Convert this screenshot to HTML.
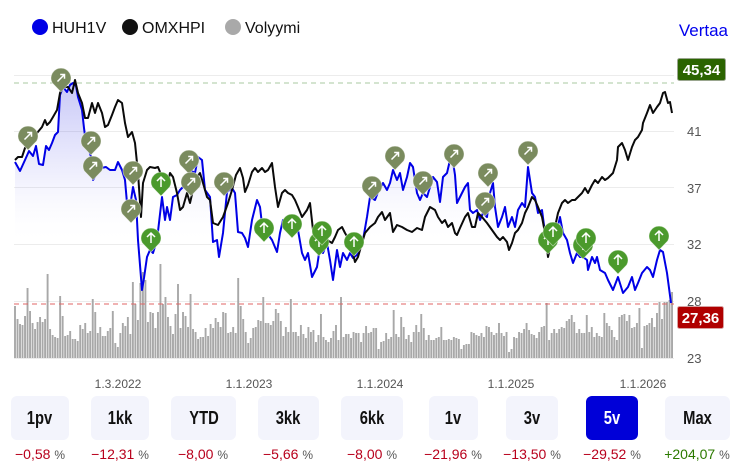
<!DOCTYPE html>
<html>
<head>
<meta charset="utf-8">
<style>
  html,body{margin:0;padding:0;background:#fff;}
  #wrap{position:relative;width:745px;height:472px;overflow:hidden;background:#fff;font-family:"Liberation Sans",Arial,sans-serif;}
  svg{position:absolute;left:0;top:0;}
  .btn{position:absolute;top:396px;height:44px;border-radius:6px;background:#f3f4fc;display:flex;align-items:center;justify-content:center;font-weight:bold;font-size:18px;color:#111;}
  .btn span{display:inline-block;transform:scaleX(0.82);}
  .btn.act{background:#0000d8;color:#fff;}
  .pct{position:absolute;top:446px;width:100px;text-align:center;font-size:14px;color:#b8001c;white-space:nowrap;}
  .pct i{font-style:normal;color:#555;font-size:12px;}
  .pct.g{color:#2c7a00;}
</style>
</head>
<body>
<div id="wrap">
<svg width="745" height="472" viewBox="0 0 745 472" xmlns="http://www.w3.org/2000/svg" font-family="Liberation Sans, Arial, sans-serif">
  <defs>
    <linearGradient id="bf" gradientUnits="userSpaceOnUse" x1="0" y1="78" x2="0" y2="245">
      <stop offset="0" stop-color="#2a2ae0" stop-opacity="0.27"/>
      <stop offset="0.6" stop-color="#4a4ae8" stop-opacity="0.08"/>
      <stop offset="1" stop-color="#ffffff" stop-opacity="0"/>
    </linearGradient>
    <g id="pg">
      <path d="M-8.7,5 A10,10 0 1 1 8.7,5 L0,14 Z" fill="#7a8b5e" stroke="#ffffff" stroke-opacity="0.5" stroke-width="0.8"/>
      <path d="M-3.5,3.5 L3.5,-3.5 M-0.8,-3.5 H3.5 V0.8" stroke="#fff" stroke-width="1.5" fill="none"/>
    </g>
    <g id="pn">
      <path d="M-8.7,5 A10,10 0 1 1 8.7,5 L0,14 Z" fill="#4b9a2c" stroke="#ffffff" stroke-opacity="0.5" stroke-width="0.8"/>
      <path d="M0,5 V-5 M-4,-1 L0,-5 L4,-1" stroke="#fff" stroke-width="1.5" fill="none"/>
    </g>
  </defs>

  <!-- legend -->
  <circle cx="40" cy="27" r="8" fill="#0000e6"/>
  <text x="52" y="33" font-size="16" fill="#111">HUH1V</text>
  <circle cx="130" cy="27" r="8" fill="#111"/>
  <text x="142" y="33" font-size="16" fill="#111">OMXHPI</text>
  <circle cx="233" cy="27" r="8" fill="#a9a9a9"/>
  <text x="245" y="33" font-size="16" fill="#111">Volyymi</text>
  <text x="728" y="36" font-size="17" fill="#0000ee" text-anchor="end">Vertaa</text>

  <!-- grid -->
  <g stroke="#ececec" stroke-width="1">
    <line x1="14" y1="75.5" x2="674" y2="75.5"/>
    <line x1="14" y1="131.5" x2="674" y2="131.5"/>
    <line x1="14" y1="187.5" x2="674" y2="187.5"/>
    <line x1="14" y1="244.5" x2="674" y2="244.5"/>
    <line x1="14" y1="301.5" x2="674" y2="301.5"/>
    <line x1="14" y1="358.5" x2="674" y2="358.5"/>
  </g>

  <!-- volume bars -->
  <path transform="translate(15,0) scale(1.0031,1)" stroke="#a8a8a8" stroke-width="1.9" fill="none" d="M0 358V306M2.5 358V319M5 358V324M7.5 358V325M10 358V316M12.5 358V288M15 358V311M17.5 358V323M20 358V329M22.5 358V322M25 358V317M27.5 358V322M30 358V319M32.5 358V274M35 358V329M37.5 358V335M40 358V337M42.5 358V338M45 358V296M47.5 358V316M50 358V336M52.5 358V335M55 358V331M57.5 358V339M60 358V339M62.5 358V341M65 358V325M67.5 358V329M70 358V323M72.5 358V333M75 358V331M77.5 358V299M80 358V312M82.5 358V333M85 358V327M87.5 358V336M90 358V336M92.5 358V331M95 358V328M97.5 358V311M100 358V343M102.5 358V347M105 358V333M107.5 358V323M110 358V326M112.5 358V317M115 358V334M117.5 358V282M120 358V304M122.5 358V320M125 358V283M127.5 358V272M130 358V280M132.5 358V322M135 358V312M137.5 358V313M140 358V328M142.5 358V312M145 358V264M147.5 358V304M150 358V297M152.5 358V317M155 358V326M157.5 358V334M160 358V314M162.5 358V284M165 358V328M167.5 358V312M170 358V316M172.5 358V327M175 358V294M177.5 358V329M180 358V332M182.5 358V339M185 358V337M187.5 358V337M190 358V328M192.5 358V336M195 358V324M197.5 358V328M200 358V318M202.5 358V322M205 358V327M207.5 358V312M210 358V313M212.5 358V333M215 358V332M217.5 358V327M220 358V333M222.5 358V278M225 358V306M227.5 358V319M230 358V332M232.5 358V343M235 358V338M237.5 358V328M240 358V327M242.5 358V320M245 358V321M247.5 358V297M250 358V323M252.5 358V323M255 358V325M257.5 358V321M260 358V309M262.5 358V313M265 358V321M267.5 358V336M270 358V327M272.5 358V332M275 358V299M277.5 358V332M280 358V332M282.5 358V336M285 358V325M287.5 358V334M290 358V338M292.5 358V327M295 358V332M297.5 358V330M300 358V342M302.5 358V335M305 358V314M307.5 358V337M310 358V340M312.5 358V342M315 358V338M317.5 358V331M320 358V325M322.5 358V340M325 358V297M327.5 358V337M330 358V334M332.5 358V334M335 358V338M337.5 358V332M340 358V333M342.5 358V333M345 358V342M347.5 358V333M350 358V326M352.5 358V333M355 358V332M357.5 358V328M360 358V328M362.5 358V349M365 358V342M367.5 358V341M370 358V333M372.5 358V339M375 358V337M377.5 358V310M380 358V334M382.5 358V337M385 358V317M387.5 358V327M390 358V339M392.5 358V335M395 358V342M397.5 358V332M400 358V325M402.5 358V332M405 358V314M407.5 358V328M410 358V340M412.5 358V335M415 358V340M417.5 358V340M420 358V338M422.5 358V337M425 358V327M427.5 358V340M430 358V340M432.5 358V339M435 358V340M437.5 358V337M440 358V338M442.5 358V339M445 358V349M447.5 358V345M450 358V344M452.5 358V344M455 358V332M457.5 358V333M460 358V335M462.5 358V336M465 358V333M467.5 358V337M470 358V326M472.5 358V327M475 358V332M477.5 358V335M480 358V333M482.5 358V323M485 358V333M487.5 358V336M490 358V332M492.5 358V352M495 358V349M497.5 358V337M500 358V338M502.5 358V332M505 358V333M507.5 358V329M510 358V323M512.5 358V330M515 358V334M517.5 358V335M520 358V338M522.5 358V332M525 358V327M527.5 358V326M530 358V303M532.5 358V340M535 358V333M537.5 358V329M540 358V333M542.5 358V329M545 358V327M547.5 358V328M550 358V321M552.5 358V319M555 358V315M557.5 358V322M560 358V333M562.5 358V329M565 358V333M567.5 358V333M570 358V315M572.5 358V332M575 358V327M577.5 358V337M580 358V333M582.5 358V336M585 358V337M587.5 358V313M590 358V323M592.5 358V326M595 358V330M597.5 358V337M600 358V340M602.5 358V317M605 358V315M607.5 358V314M610 358V321M612.5 358V315M615 358V328M617.5 358V327M620 358V323M622.5 358V308M625 358V348M627.5 358V326M630 358V325M632.5 358V323M635 358V318M637.5 358V327M640 358V313M642.5 358V302M645 358V319M647.5 358V302M650 358V302M652.5 358V300M655 358V292"/>

  <!-- reference dashed lines -->
  <line x1="14" y1="83" x2="674" y2="83" stroke="#a9c9a0" stroke-width="1" stroke-dasharray="5,4"/>
  <line x1="14" y1="304" x2="674" y2="304" stroke="#e06464" stroke-width="1" stroke-dasharray="5,4"/>

  <!-- blue area fill -->
  <path fill="url(#bf)" stroke="none" d="M15,162 L20,171 25,160 29,151 33,156 36,146 39,164 43,165 46,146 49,150 52,143 55,135 58,132 60,95 63,87 67,92 70,85 73,83 76,86 78,97 82,110 84,128 86,143 89,150 92,160 93,180 97,173 101,168 106,167 110,170 115,170 118,162 122,170 125,180 127,203 130,207 133,187 136,200 138,240 142,290 144,278 147,257 150,250 153,253 157,240 162,197 165,220 167,207 170,220 173,197 177,195 180,190 183,187 187,183 190,170 195,173 198,157 202,160 205,190 210,197 213,242 217,240 219,257 223,233 227,192 232,188 235,193 238,232 242,233 245,238 248,247 252,220 257,200 260,207 263,233 267,233 272,240 277,252 280,233 283,220 288,220 293,218 298,230 302,253 305,260 308,253 312,277 317,267 320,247 323,253 327,243 330,260 333,280 337,250 340,267 343,253 347,260 350,253 353,258 357,255 360,247 363,240 367,217 370,197 375,200 378,192 383,183 387,190 390,183 393,170 397,180 400,173 403,190 407,177 410,163 413,167 417,193 420,200 423,193 427,197 430,187 433,177 437,182 440,202 443,177 447,173 450,160 453,162 455,175 457,203 460,197 465,187 468,183 470,210 473,213 477,210 480,220 483,213 487,217 490,193 493,183 495,207 498,227 502,217 505,207 508,227 512,217 515,227 518,210 522,203 525,207 528,167 532,193 535,197 538,213 542,210 545,233 548,250 552,237 557,230 560,217 563,233 567,240 570,253 573,263 577,253 580,257 583,257 587,260 588,270 592,257 595,263 597,257 600,270 605,273 608,280 613,290 618,277 623,293 628,287 632,277 635,290 638,283 642,273 647,267 650,270 653,277 657,260 660,250 663,252 667,273 671,303 L671,358 L15,358 Z"/>

  <!-- HUH1V line -->
  <polyline fill="none" stroke="#0000e6" stroke-width="2" stroke-linejoin="round" points="15,162 20,171 25,160 29,151 33,156 36,146 39,164 43,165 46,146 49,150 52,143 55,135 58,132 60,95 63,87 67,92 70,85 73,83 76,86 78,97 82,110 84,128 86,143 89,150 92,160 93,180 97,173 101,168 106,167 110,170 115,170 118,162 122,170 125,180 127,203 130,207 133,187 136,200 138,240 142,290 144,278 147,257 150,250 153,253 157,240 162,197 165,220 167,207 170,220 173,197 177,195 180,190 183,187 187,183 190,170 195,173 198,157 202,160 205,190 210,197 213,242 217,240 219,257 223,233 227,192 232,188 235,193 238,232 242,233 245,238 248,247 252,220 257,200 260,207 263,233 267,233 272,240 277,252 280,233 283,220 288,220 293,218 298,230 302,253 305,260 308,253 312,277 317,267 320,247 323,253 327,243 330,260 333,280 337,250 340,267 343,253 347,260 350,253 353,258 357,255 360,247 363,240 367,217 370,197 375,200 378,192 383,183 387,190 390,183 393,170 397,180 400,173 403,190 407,177 410,163 413,167 417,193 420,200 423,193 427,197 430,187 433,177 437,182 440,202 443,177 447,173 450,160 453,162 455,175 457,203 460,197 465,187 468,183 470,210 473,213 477,210 480,220 483,213 487,217 490,193 493,183 495,207 498,227 502,217 505,207 508,227 512,217 515,227 518,210 522,203 525,207 528,167 532,193 535,197 538,213 542,210 545,233 548,250 552,237 557,230 560,217 563,233 567,240 570,253 573,263 577,253 580,257 583,257 587,260 588,270 592,257 595,263 597,257 600,270 605,273 608,280 613,290 618,277 623,293 628,287 632,277 635,290 638,283 642,273 647,267 650,270 653,277 657,260 660,250 663,252 667,273 671,303"/>

  <!-- OMXHPI line -->
  <polyline fill="none" stroke="#0a0a0a" stroke-width="2" stroke-linejoin="round" points="15,160 18,157 22,157 25,148 28,145 32,142 37,133 42,127 45,120 47,125 50,122 53,117 57,110 60,93 63,87 68,87 72,93 75,80 78,93 82,103 85,118 88,118 92,103 95,113 98,103 102,113 105,127 108,125 112,115 115,107 118,100 122,103 125,123 128,137 132,132 135,143 138,173 141,217 143,183 147,170 150,167 155,168 158,167 162,177 167,187 170,173 173,177 177,193 180,210 183,207 187,193 190,203 193,190 197,177 200,173 203,183 207,197 210,200 213,223 218,225 223,217 228,203 232,190 236,175 240,168 243,178 245,192 248,185 252,172 255,168 258,172 262,168 265,172 268,170 272,163 275,187 278,207 282,193 285,190 288,193 292,195 295,200 298,207 302,217 307,210 310,203 313,230 317,227 322,233 327,240 332,243 335,237 338,230 342,227 345,233 348,238 352,250 355,262 358,257 362,243 365,233 370,227 375,223 378,217 382,212 385,220 390,213 393,232 397,225 402,227 407,230 412,232 417,228 422,230 425,217 430,207 435,210 438,217 442,223 445,220 448,227 452,223 455,233 457,235 460,228 465,217 468,213 472,227 475,227 478,213 482,217 487,223 492,230 497,237 500,240 503,237 507,242 509,250 512,243 515,233 518,230 522,223 525,213 528,207 532,197 535,200 538,207 542,217 545,233 548,257 552,240 555,227 558,213 562,203 565,200 568,203 572,200 575,200 578,197 582,193 585,188 588,193 592,185 595,180 598,183 602,177 605,180 608,178 613,173 617,160 618,147 622,143 625,150 628,160 632,147 635,140 638,137 642,130 643,123 647,113 650,105 653,113 657,107 660,103 663,93 665,92 668,103 670,102 672,113"/>

  <!-- pins -->
  <use href="#pg" transform="translate(28,136)"/>
  <use href="#pg" transform="translate(61,78)"/>
  <use href="#pg" transform="translate(91,141)"/>
  <use href="#pg" transform="translate(93,166)"/>
  <use href="#pg" transform="translate(133,171)"/>
  <use href="#pg" transform="translate(131,209)"/>
  <use href="#pg" transform="translate(189,160)"/>
  <use href="#pg" transform="translate(191,182)"/>
  <use href="#pg" transform="translate(224,182)"/>
  <use href="#pg" transform="translate(372,186)"/>
  <use href="#pg" transform="translate(395,156)"/>
  <use href="#pg" transform="translate(423,181)"/>
  <use href="#pg" transform="translate(454,154)"/>
  <use href="#pg" transform="translate(488,173)"/>
  <use href="#pg" transform="translate(485,202)"/>
  <use href="#pg" transform="translate(528,151)"/>
  <use href="#pn" transform="translate(161,182)"/>
  <use href="#pn" transform="translate(151,238)"/>
  <use href="#pn" transform="translate(264,228)"/>
  <use href="#pn" transform="translate(292,224)"/>
  <use href="#pn" transform="translate(319,242)"/>
  <use href="#pn" transform="translate(322,231)"/>
  <use href="#pn" transform="translate(354,242)"/>
  <use href="#pn" transform="translate(548,240)"/>
  <use href="#pn" transform="translate(553,232)"/>
  <use href="#pn" transform="translate(583,245)"/>
  <use href="#pn" transform="translate(586,238)"/>
  <use href="#pn" transform="translate(618,260)"/>
  <use href="#pn" transform="translate(659,236)"/>

  <!-- y axis labels -->
  <g font-size="13" fill="#555">
    <text x="687" y="136">41</text>
    <text x="687" y="193">37</text>
    <text x="687" y="249">32</text>
    <text x="687" y="306">28</text>
    <text x="687" y="363">23</text>
  </g>

  <!-- value boxes -->
  <rect x="677.5" y="58.5" width="48" height="22" rx="2" fill="#2b6400" stroke="#9aa68f"/>
  <text x="701.5" y="75" font-size="15" font-weight="bold" fill="#fff" text-anchor="middle">45,34</text>
  <rect x="677.5" y="306.5" width="46" height="22" rx="2" fill="#b00000" stroke="#d8a0a0"/>
  <text x="700.5" y="323" font-size="15" font-weight="bold" fill="#fff" text-anchor="middle">27,36</text>

  <!-- x axis labels -->
  <g font-size="12" fill="#555" text-anchor="middle">
    <text x="118" y="388">1.3.2022</text>
    <text x="249" y="388">1.1.2023</text>
    <text x="380" y="388">1.1.2024</text>
    <text x="511" y="388">1.1.2025</text>
    <text x="643" y="388">1.1.2026</text>
  </g>
</svg>

<div class="btn" style="left:11px;width:58px;"><span>1pv</span></div>
<div class="btn" style="left:91px;width:58px;"><span>1kk</span></div>
<div class="btn" style="left:171px;width:65px;"><span>YTD</span></div>
<div class="btn" style="left:258px;width:61px;"><span>3kk</span></div>
<div class="btn" style="left:341px;width:62px;"><span>6kk</span></div>
<div class="btn" style="left:429px;width:49px;"><span>1v</span></div>
<div class="btn" style="left:506px;width:52px;"><span>3v</span></div>
<div class="btn act" style="left:586px;width:52px;"><span>5v</span></div>
<div class="btn" style="left:665px;width:65px;"><span>Max</span></div>

<div class="pct" style="left:-10px;">−0,58 <i>%</i></div>
<div class="pct" style="left:70px;">−12,31 <i>%</i></div>
<div class="pct" style="left:153px;">−8,00 <i>%</i></div>
<div class="pct" style="left:238px;">−5,66 <i>%</i></div>
<div class="pct" style="left:322px;">−8,00 <i>%</i></div>
<div class="pct" style="left:403px;">−21,96 <i>%</i></div>
<div class="pct" style="left:482px;">−13,50 <i>%</i></div>
<div class="pct" style="left:562px;">−29,52 <i>%</i></div>
<div class="pct g" style="left:647px;">+204,07 <i>%</i></div>
</div>
</body>
</html>
